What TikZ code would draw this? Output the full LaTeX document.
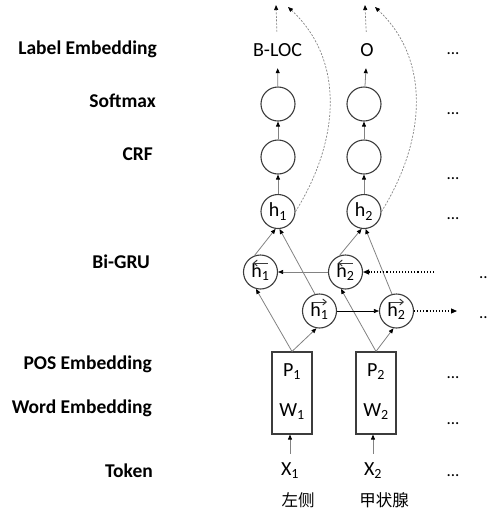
\documentclass[tikz,border=0pt]{standalone}
\usepackage{fontspec}
\setmainfont{Carlito}
\newfontfamily\cjk{Noto Sans CJK SC}
\usetikzlibrary{arrows.meta}
\definecolor{dgray}{RGB}{60,60,60}
\definecolor{lgray}{RGB}{130,130,130}
\tikzset{
  neuron/.style={circle, draw=dgray, line width=1.1pt, minimum size=34pt, inner sep=0pt, font=\fontsize{20}{20}\selectfont},
  embbox/.style={draw=dgray, line width=1.1pt, minimum width=40pt, minimum height=82pt, inner sep=0pt},
  conn/.style={draw=lgray, line width=0.8pt, -{Triangle[length=5pt,width=4pt,color=black]}},
  fconn/.style={draw=black, line width=0.6pt, -{Triangle[length=5pt,width=4pt,color=black]}},
  dotconn/.style={draw=black, line width=1.1pt, dotted, -{Triangle[length=6pt,width=5pt,color=black]}},
  skipconn/.style={draw=lgray, line width=0.7pt, dash pattern=on 2pt off 1.5pt, -{Triangle[length=5pt,width=4pt,color=black]}},
  harr/.style={draw=dgray, line width=1pt, -{Straight Barb[length=3.5pt,width=6pt]}},
  lbl/.style={anchor=east, font=\bfseries\fontsize{19.5}{20}\selectfont, inner sep=0pt},
  txt/.style={font=\fontsize{20}{20}\selectfont, inner sep=0pt},
  tok/.style={font=\fontsize{20}{20}\selectfont, inner xsep=0pt, inner ysep=9pt},
  cntxt/.style={font=\cjk\fontsize{16.5}{17}\selectfont, inner sep=0pt},
  ell/.style={anchor=base, font=\fontsize{17}{17}\selectfont, inner sep=0pt},
}
\begin{document}
\begin{tikzpicture}[x=1pt, y=-1pt]
\useasboundingbox (0,0) rectangle (488,515);

% left labels
\node[lbl] (lLab) at (157,49) {Label Embedding};
\node[lbl] (lSm) at (156,101) {Softmax};
\node[lbl] (lCrf) at (153,154) {CRF};
\node[lbl] (lGru) at (150,262) {Bi-GRU};
\node[lbl] (lPos) at (152,364) {POS Embedding};
\node[lbl] (lWord) at (152,408) {Word Embedding};
\node[lbl] (lTok) at (153,471) {Token};

% output labels
\node[txt, minimum height=36pt] (lab1) at (277.5,50) {B-LOC};
\node[txt, minimum height=36pt] (lab2) at (367,50) {O};
\coordinate (top1) at (276,5);
\coordinate (top2) at (365,5);
\coordinate (ctip1) at (288,7);
\coordinate (ctip2) at (375,7);

% neurons
\node[neuron] (sm1) at (278,104) {};
\node[neuron] (sm2) at (364,104) {};
\node[neuron] (crf1) at (278,157) {};
\node[neuron] (crf2) at (364,157) {};
\node[neuron] (h1) at (278,211.5) {h\textsubscript{1}};
\node[neuron] (h2) at (364,211.5) {h\textsubscript{2}};
\node[neuron] (bh1) at (260.5,272) {h\textsubscript{1}};
\node[neuron] (bh2) at (345.5,272) {h\textsubscript{2}};
\node[neuron] (fh1) at (319.5,311) {h\textsubscript{1}};
\node[neuron] (fh2) at (396.5,311) {h\textsubscript{2}};

% direction arrows over h
\draw[harr] ([shift={(7,-9)}]bh1.center) -- ([shift={(-7.5,-9)}]bh1.center);
\draw[harr] ([shift={(7,-9)}]bh2.center) -- ([shift={(-7.5,-9)}]bh2.center);
\draw[harr] ([shift={(-7,-9)}]fh1.center) -- ([shift={(7.5,-9)}]fh1.center);
\draw[harr] ([shift={(-7,-9)}]fh2.center) -- ([shift={(7.5,-9)}]fh2.center);

% embedding boxes
\node[embbox] (box1) at (292,393) {};
\node[embbox] (box2) at (376,393) {};
\node[txt] (p1) at (292,372) {P\textsubscript{1}};
\node[txt] (w1) at (292,412) {W\textsubscript{1}};
\node[txt] (p2) at (376,372) {P\textsubscript{2}};
\node[txt] (w2) at (376,412) {W\textsubscript{2}};

% tokens
\node[tok] (x1) at (290,471) {X\textsubscript{1}};
\node[tok] (x2) at (373,471) {X\textsubscript{2}};
\node[cntxt] (c1) at (298,500) {左侧};
\node[cntxt] (c2) at (384,500) {甲状腺};

% ellipses
\node[ell] (e1) at (453,54) {...};
\node[ell] (e2) at (453,114) {...};
\node[ell] (e3) at (453,179) {...};
\node[ell] (e4) at (453,219) {...};
\node[ell] (e5) at (453,378) {...};
\node[ell] (e6) at (453,424) {...};
\node[ell] (e7) at (453,476) {...};
\node[ell, anchor=base west] (e8) at (479,278) {...};
\node[ell, anchor=base west] (e9) at (479,318) {...};

% vertical chain
\draw[conn] (sm1) -- (lab1);
\draw[conn] (sm2) -- (lab2);
\draw[conn] (crf1) -- (sm1);
\draw[conn] (crf2) -- (sm2);
\draw[conn] (h1) -- (crf1);
\draw[conn] (h2) -- (crf2);
\draw[skipconn] (lab1) -- (top1);
\draw[skipconn] (lab2) -- (top2);

% skip curves
\draw[skipconn] (h1.east) .. controls (340,140) and (345,60) .. (ctip1);
\draw[skipconn] (h2.east) .. controls (426,140) and (431,60) .. (ctip2);

% Bi-GRU connections
\draw[conn] (bh1.110) -- (h1.262);
\draw[conn] (fh1.105) -- (h1.275);
\draw[conn] (bh2.110) -- (h2.262);
\draw[conn] (fh2.105) -- (h2.275);
\draw[conn] (box1.north) -- (bh1.255);
\draw[conn] (box1.north) -- (fh1.260);
\draw[conn] (box2.north) -- (bh2.255);
\draw[conn] (box2.north) -- (fh2.260);

% recurrent
\draw[conn] (bh2) -- (bh1);
\draw[fconn] (fh1) -- (fh2);
\coordinate (bin) at (434,272);
\coordinate (fout) at (457,311);
\draw[dotconn] (bin) -- (bh2);
\draw[dotconn] (fh2) -- (fout);

% token inputs
\draw[conn] (x1) -- (x1 |- box1.south);
\draw[conn] (x2) -- (x2 |- box2.south);
\end{tikzpicture}
\end{document}
